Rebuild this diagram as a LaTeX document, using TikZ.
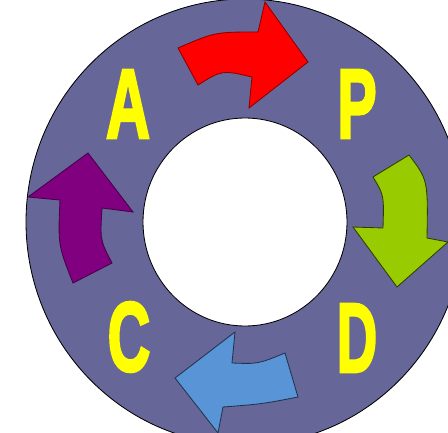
\documentclass[tikz,border=0pt]{standalone}
\definecolor{ringslate}{RGB}{102, 102, 153}
\definecolor{letteryellow}{RGB}{255, 255, 0}
\definecolor{planred}{RGB}{255, 0, 0}
\definecolor{dogreen}{RGB}{153, 204, 0}
\definecolor{checkblue}{RGB}{88, 148, 214}
\definecolor{actpurple}{RGB}{128, 0, 128}
\usepackage{graphicx}
\usepackage{fontspec}
\setmainfont{Liberation Sans}
\newfontfamily\letterfont[FakeBold=3]{Liberation Sans Bold}
\usepackage{tikz}

\begin{document}
\begin{tikzpicture}[x=0.025cm, y=-0.025cm,
  letter/.style={text=letteryellow, inner sep=0pt, font=\fontsize{70}{70}\letterfont},
  bentarrow/.style={line width=0.6pt, line join=miter}]
  \useasboundingbox (0,0) rectangle (448,433);
  \clip (0,0) rectangle (448,433);

  % Ring
  \draw[fill=ringslate, line width=0.6pt] (245,222) ellipse [x radius=219, y radius=223];
  \draw[fill=white, line width=0.6pt] (245,222) ellipse [x radius=102, y radius=104];

  % Arrows (clockwise)
  \draw[bentarrow, fill=planred, draw=planred!55!black]
    (178,48) .. controls (215,32) .. (258,32) -- (265,2) -- (308,62) -- (249,108)
    -- (252,77) .. controls (222,70) .. (198,85) -- cycle;

  \draw[bentarrow, fill=dogreen, draw=dogreen!30!black]
    (409,155) .. controls (428,180) .. (427,238) -- (448,242) -- (397,287) -- (353,227)
    -- (383,228) .. controls (384,195) .. (373,177) -- cycle;

  \draw[bentarrow, fill=checkblue, draw=checkblue!35!black]
    (285,353) .. controls (258,364) .. (232,363) -- (235,332) -- (175,378) -- (218,433)
    -- (223,407) .. controls (262,404) .. (298,397) -- cycle;

  \draw[bentarrow, fill=actpurple, draw=actpurple!55!black]
    (112,263) .. controls (100,240) .. (102,208) -- (133,212) -- (88,153) -- (28,197)
    -- (60,200) .. controls (58,245) .. (73,283) -- cycle;

  % Letters
  \node[letter] (plan) at (357,104) {\scalebox{0.6}[1]{P}};
  \node[letter] (do) at (357,338) {\scalebox{0.57}[1]{D}};
  \node[letter] (check) at (129,337) {\scalebox{0.6}[1]{C}};
  \node[letter] (act) at (128,104) {\scalebox{0.62}[1]{A}};
\end{tikzpicture}
\end{document}
